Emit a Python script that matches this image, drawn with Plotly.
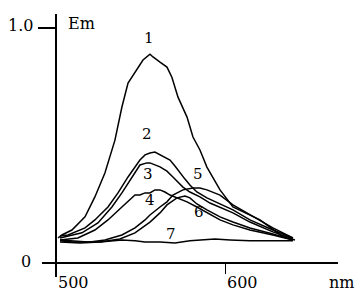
import plotly.graph_objects as go

# ---- data (wavelength nm, relative emission) ----
nm1 = [501.2, 503.5, 509.4, 517.1, 522.9, 528.8, 534.7, 538.8, 542.4, 546.5, 551.2, 555.3, 557.1, 561.2,
       565.3, 568.2, 571.8, 577.1, 580.6, 584.7, 588.8, 596.5, 604.1, 620.0, 633.5, 640.6]
em1 = [0.106, 0.119, 0.140, 0.196, 0.281, 0.383, 0.523, 0.664, 0.766, 0.813, 0.864, 0.889, 0.877, 0.855,
       0.834, 0.791, 0.706, 0.621, 0.536, 0.481, 0.408, 0.311, 0.238, 0.183, 0.111, 0.098]

nm2 = [502.4, 507.1, 517.1, 522.9, 530.6, 536.5, 542.4, 546.5, 549.4, 552.4, 555.3, 558.2, 561.2, 564.1,
       567.1, 570.0, 572.9, 575.9, 578.8, 582.9, 588.8, 596.5, 604.1, 614.1, 627.6, 639.4]
em2 = [0.115, 0.119, 0.149, 0.183, 0.238, 0.298, 0.366, 0.409, 0.438, 0.460, 0.468, 0.472, 0.460, 0.451,
       0.438, 0.413, 0.383, 0.357, 0.332, 0.302, 0.277, 0.251, 0.226, 0.183, 0.140, 0.106]

nm3 = [502.4, 515.3, 524.7, 532.9, 538.8, 544.7, 549.4, 553.5, 555.3, 561.2, 565.3, 568.8, 574.7, 578.8,
       584.7, 590.6, 596.5, 604.1, 614.1, 627.6, 639.4]
em3 = [0.106, 0.128, 0.170, 0.238, 0.298, 0.366, 0.417, 0.426, 0.426, 0.409, 0.391, 0.366, 0.323, 0.302,
       0.281, 0.255, 0.238, 0.213, 0.174, 0.132, 0.102]

nm4 = [502.4, 512.9, 522.9, 530.6, 538.8, 546.5, 549.4, 552.4, 555.3, 558.2, 561.2, 564.1, 567.1, 571.2,
       577.1, 582.9, 588.8, 596.5, 604.1, 614.1, 627.6, 639.4]
em4 = [0.098, 0.106, 0.140, 0.183, 0.238, 0.289, 0.289, 0.298, 0.298, 0.311, 0.311, 0.302, 0.289, 0.277,
       0.260, 0.238, 0.213, 0.183, 0.162, 0.140, 0.119, 0.098]

nm5 = [502.4, 509.4, 520.0, 528.8, 538.8, 546.5, 552.4, 555.3, 561.2, 565.3, 568.8, 574.7, 580.6, 584.7,
       588.8, 593.5, 596.5, 604.1, 614.1, 627.6, 639.4]
em5 = [0.094, 0.089, 0.089, 0.098, 0.119, 0.149, 0.183, 0.204, 0.238, 0.260, 0.289, 0.311, 0.319, 0.319,
       0.311, 0.298, 0.289, 0.247, 0.204, 0.149, 0.106]

nm6 = [502.4, 514.1, 525.9, 537.6, 546.5, 555.3, 561.2, 565.3, 571.2, 575.9, 578.8, 582.9, 588.8, 596.5,
       604.1, 614.1, 627.6, 639.4]
em6 = [0.089, 0.085, 0.089, 0.102, 0.128, 0.174, 0.213, 0.247, 0.277, 0.285, 0.277, 0.251, 0.226, 0.196,
       0.174, 0.149, 0.123, 0.098]

nm7 = [502.4, 511.2, 518.8, 525.9, 538.8, 546.5, 552.4, 561.2, 570.0, 578.8, 584.7, 593.5, 602.4, 614.1,
       625.9, 639.4]
em7 = [0.098, 0.094, 0.089, 0.089, 0.098, 0.094, 0.089, 0.089, 0.085, 0.094, 0.098, 0.102, 0.098, 0.094,
       0.094, 0.094]

series = [(nm1, em1), (nm2, em2), (nm3, em3), (nm4, em4), (nm5, em5), (nm6, em6), (nm7, em7)]
curve_labels = ["1", "2", "3", "4", "5", "6", "7"]

FONT = "DejaVu Serif"

fig = go.Figure()
for (x, y), name in zip(series, curve_labels):
    fig.add_trace(go.Scatter(x=x, y=y, mode="lines", name=name,
                             line=dict(color="black", width=1.5), showlegend=False))

# curve number labels (paper coordinates)
label_pos = {"1": (0.36, 0.91), "2": (0.355, 0.542), "3": (0.358, 0.393),
             "4": (0.365, 0.294), "5": (0.527, 0.393), "6": (0.53, 0.249), "7": (0.436, 0.165)}
annotations = []
for name in curve_labels:
    px, py = label_pos[name]
    annotations.append(dict(x=px, y=py, xref="paper", yref="paper", text=name, showarrow=False,
                            xanchor="center", yanchor="middle",
                            font=dict(family=FONT, size=15, color="black")))

# axis texts
for text, px, py in [("0", -0.054, 0.060), ("1.0", -0.071, 0.957),
                     ("500", 0.108, -0.020), ("600", 0.676, -0.020),
                     ("nm", 1.0135, -0.020), ("Em", 0.135, 0.965)]:
    annotations.append(dict(x=px, y=py, xref="paper", yref="paper", text=text, showarrow=False,
                            xanchor="center", yanchor="middle",
                            font=dict(family=FONT, size=16, color="black")))

fig.update_layout(
    width=357, height=291,
    margin=dict(l=42, r=19, t=14, b=14),
    paper_bgcolor="white", plot_bgcolor="white",
    annotations=annotations,
    xaxis=dict(range=[491.8, 665.9], anchor="free", position=0.0532,
               showline=True, linecolor="black", linewidth=1.5,
               ticks="outside", tickvals=[600], ticklen=10, tickwidth=1.2, tickcolor="black",
               showticklabels=False, showgrid=False, zeroline=False),
    yaxis=dict(range=[-0.06, 1.06], anchor="free", position=0.0473,
               showline=True, linecolor="black", linewidth=2,
               ticks="outside", tickvals=[1.0], ticklen=17, tickwidth=1.5, tickcolor="black",
               showticklabels=False, showgrid=False, zeroline=False),
)

fig.write_html("out.html", config={"displayModeBar": False},
               post_script="document.body.style.margin='0';document.body.style.overflow='hidden';")
